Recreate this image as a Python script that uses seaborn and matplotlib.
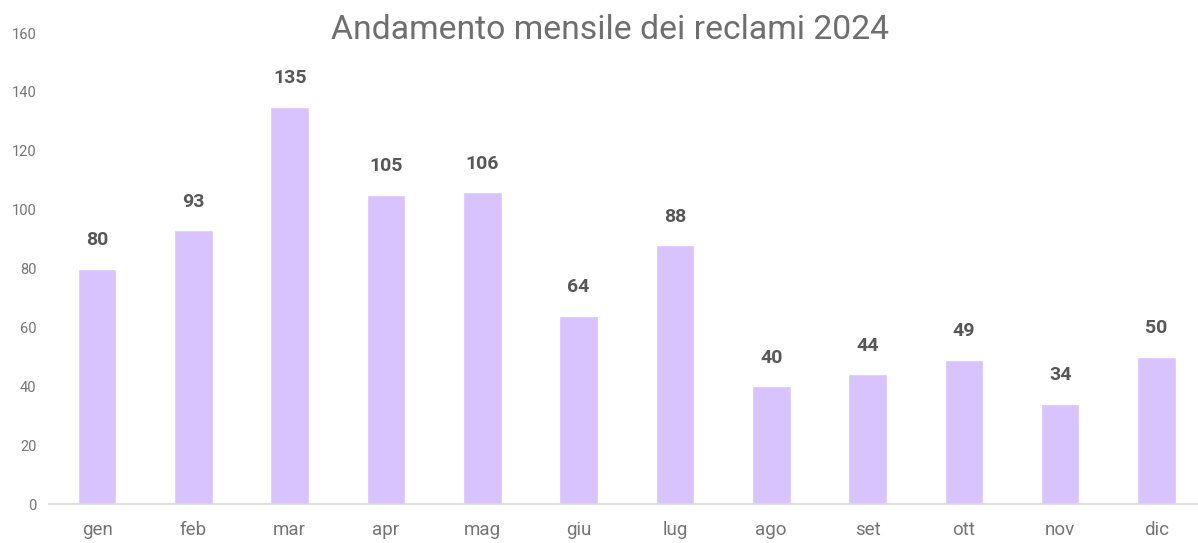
import pandas as pd
import seaborn as sns
import matplotlib.pyplot as plt

months = ["gen", "feb", "mar", "apr", "mag", "giu", "lug", "ago", "set", "ott", "nov", "dic"]
complaints = [80, 93, 135, 105, 106, 64, 88, 40, 44, 49, 34, 50]
y_ticks = [0, 20, 40, 60, 80, 100, 120, 140, 160]

df = pd.DataFrame({"Mese": months, "Reclami": complaints})

sns.set_theme(style="white")
plt.rcParams['font.family'] = ['Roboto', 'DejaVu Sans']

fig = plt.figure(figsize=(11.98, 5.43), dpi=100)
ax = fig.add_axes([0.0409, 0.0718, 0.9646, 0.8674])

sns.barplot(data=df, x="Mese", y="Reclami", color="#d9c3fe", saturation=1,
            width=0.4, ax=ax)

ax.set_xlim(-0.5, 11.5)
ax.set_ylim(0, 160)
ax.set_yticks(y_ticks)
ax.set_xlabel("")
ax.set_ylabel("")

for s in ["top", "right", "left"]:
    ax.spines[s].set_visible(False)
ax.spines["bottom"].set_color("#d9d9d9")
ax.spines["bottom"].set_linewidth(1.2)

ax.tick_params(axis="y", length=0, pad=9, labelsize=10.5, labelcolor="#757575")
ax.tick_params(axis="x", length=0, pad=12, labelsize=13.5, labelcolor="#757575")

for container in ax.containers:
    ax.bar_label(container, fmt="%.0f", padding=14, fontsize=14,
                 fontweight="bold", color="#575757")

fig.text(0.509, 0.928, "Andamento mensile dei reclami 2024", ha="center",
         va="baseline", fontsize=24.3, color="#6e6e6e")

plt.savefig("out.png", dpi=100)
plt.close()
